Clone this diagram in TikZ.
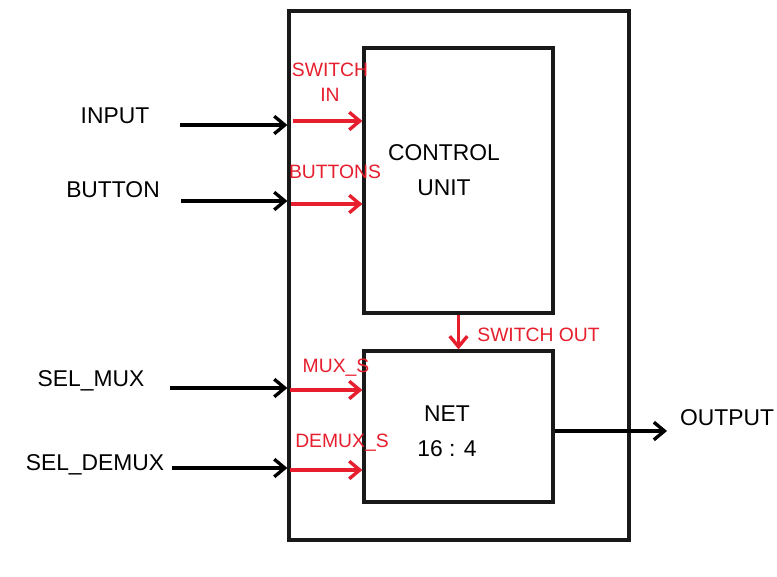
\documentclass[tikz,border=0pt]{standalone}
\usepackage{fontspec}
\setmainfont{Liberation Sans}
\usetikzlibrary{arrows.meta}
\definecolor{wirered}{RGB}{230,30,45}
\begin{document}
\begin{tikzpicture}[x=0.02cm,y=-0.02cm,
    block/.style={draw=black!90,line width=1.9pt,inner sep=0pt},
    wire/.style={line width=1.9pt,-{Straight Barb[length=6pt,width=10pt,line width=1.9pt]}},
    sig/.style={wire,draw=wirered},
    lbl/.style={font=\fontsize{13}{15}\selectfont,align=center},
    siglbl/.style={font=\fontsize{11}{12}\selectfont,text=wirered,align=center,inner sep=0pt}]
  \useasboundingbox (0,0) rectangle (777,577);
  % blocks
  \node[block,minimum width=6.8cm,minimum height=10.58cm] (chip) at (459,275.5) {};
  \node[block,minimum width=3.78cm,minimum height=5.3cm] (ctrl) at (458.5,180.5) {};
  \node[block,minimum width=3.78cm,minimum height=3.02cm] (net) at (458.5,426.5) {};
  \node[lbl] (ctrltxt) at (444,170) {CONTROL\\[5pt]UNIT};
  \node[lbl] (nettxt) at (447,431) {NET\\[5pt]16 : 4};
  % outside inputs
  \node[lbl] (input) at (115,116) {INPUT};
  \node[lbl] (button) at (113,190) {BUTTON};
  \node[lbl] (selmux) at (91,381) {SEL\_MUX};
  \node[lbl] (seldemux) at (95,465) {SEL\_DEMUX};
  \coordinate (inA) at (180,125);
  \coordinate (inB) at (181,201);
  \coordinate (inC) at (170,388);
  \coordinate (inD) at (172,468);
  \foreach \p in {inA,inB,inC,inD}
    \draw[wire] (\p) -- (\p -| chip.west);
  % inner signals
  \node[siglbl] (swin) at (330,82) {SWITCH\\[2pt]IN};
  \node[siglbl] (buttons) at (335,172) {BUTTONS};
  \node[siglbl] (muxs) at (336,368) {MUX\_S};
  \node[siglbl] (demuxs) at (342,443) {DEMUX\_S};
  \coordinate (sA) at (293,121);
  \coordinate (sB) at (291,204);
  \coordinate (sC) at (290,390);
  \coordinate (sD) at (290,470);
  \foreach \p in {sA,sB,sC,sD}
    \draw[sig] (\p) -- (\p -| ctrl.west);
  \draw[sig] (ctrl.south) -- (net.north);
  \node[siglbl,anchor=west] (swout) at (477,335) {SWITCH OUT};
  % output
  \coordinate (out) at (667,431);
  \draw[wire] (out -| net.east) -- (out);
  \node[lbl] (output) at (727,418) {OUTPUT};
\end{tikzpicture}
\end{document}
